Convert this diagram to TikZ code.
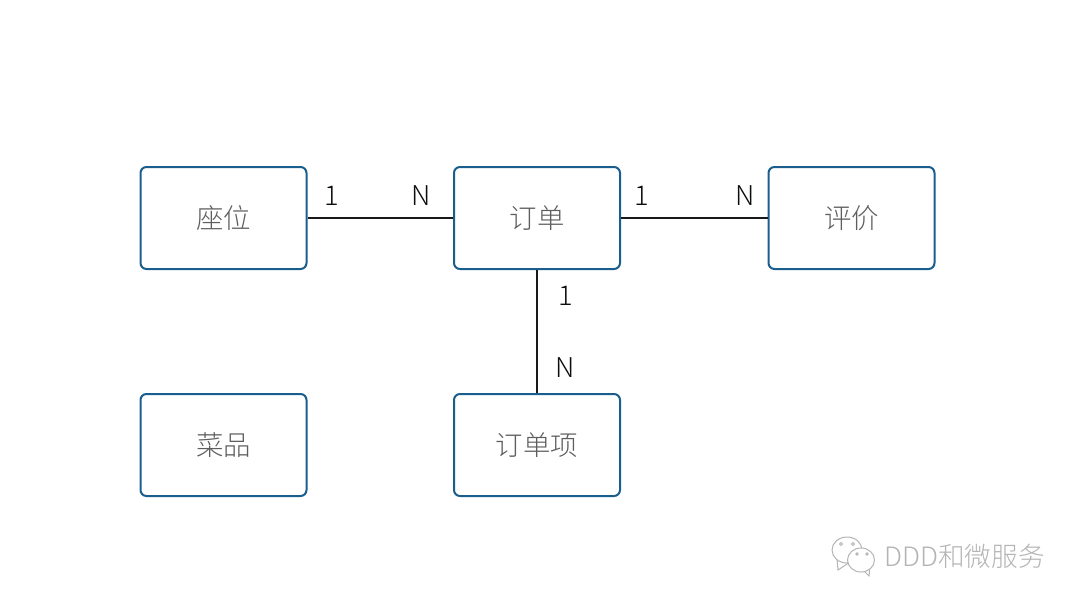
\documentclass[tikz,border=0pt]{standalone}
\usepackage{fontspec}
\setmainfont{Noto Sans CJK SC Light}
\definecolor{boxblue}{HTML}{1A5E8E}
\definecolor{boxtext}{HTML}{5E5E5E}
\definecolor{marktext}{HTML}{B4B4B4}
\begin{document}
\begin{tikzpicture}[
	entity/.style={
		rectangle,
		draw=boxblue,
		line width=0.04cm,
		align=center,
		rounded corners=0.12cm,
		text=boxtext,
		font=\fontsize{15.6pt}{18pt}\selectfont,
		minimum height=2.04cm,
		minimum width=3.32cm
	},
	link/.style={
		line width=0.04cm,
		black!90
	},
	card/.style={
		text=black!95,
		inner sep=0pt,
		font=\fontsize{15.5pt}{18pt}\selectfont
	},
	bubble/.style={
		draw=marktext,
		line width=0.02cm,
		fill=white
	},
	eye/.style={
		draw=marktext,
		line width=0.015cm,
		fill=white
	},
]

\useasboundingbox (0,0) rectangle (21.6,12.08);

% Entities
\node[entity] (seat) at (4.47,7.72) {座位};
\node[entity] (order) at (10.74,7.72) {订单};
\node[entity] (review) at (17.03,7.72) {评价};
\node[entity] (dish) at (4.47,3.18) {菜品};
\node[entity] (item) at (10.74,3.18) {订单项};

% Links
\draw[link] (seat.east) -- (order.west);
\draw[link] (order.east) -- (review.west);
\draw[link] (order.south) -- (item.north);

% Cardinalities
\node[card] (seat1) at (6.64,8.16) {1};
\node[card] (seatN) at (8.42,8.16) {N};
\node[card] (review1) at (12.83,8.16) {1};
\node[card] (reviewN) at (14.9,8.16) {N};
\node[card] (item1) at (11.31,6.16) {1};
\node[card] (itemN) at (11.3,4.72) {N};

% Watermark
\draw[bubble] (16.74,0.9) -- (16.76,0.68) -- (17.0,0.84) -- cycle;
\draw[bubble] (16.94,1.08) ellipse (0.3 and 0.26);
\draw[eye] (16.82,1.2) circle (0.03);
\draw[eye] (17.06,1.2) circle (0.03);
\draw[bubble] (17.22,0.72) -- (17.38,0.56) -- (17.4,0.76) -- cycle;
\draw[bubble] (17.22,0.88) ellipse (0.27 and 0.24);
\draw[eye] (17.14,1.0) circle (0.025);
\draw[eye] (17.34,1.0) circle (0.025);
\node[text=marktext, inner sep=0pt, font=\fontsize{15.2pt}{17pt}\selectfont, anchor=west] (brand) at (17.68,0.96) {DDD和微服务};

\end{tikzpicture}
\end{document}
